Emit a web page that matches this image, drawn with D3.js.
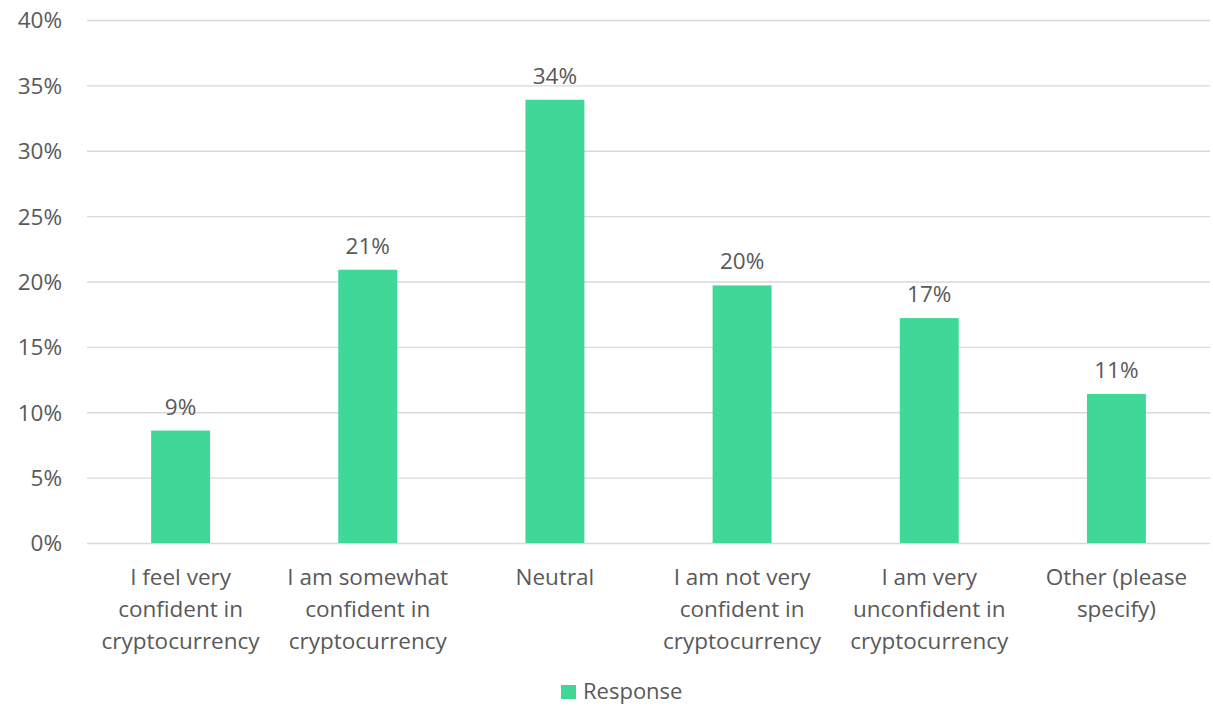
<!DOCTYPE html>
<html>
<head>
<meta charset="utf-8">
<script src="https://cdn.jsdelivr.net/npm/d3@7"></script>
<style>
  html, body { margin: 0; padding: 0; background: #fff; }
  svg { display: block; }
  text { font-family: "Open Sans", "Noto Sans", sans-serif; fill: #595959; }
</style>
</head>
<body>
<svg id="chart" width="1213" height="706"></svg>
<script>
// Survey answers: how confident respondents feel in cryptocurrency
const categories = [
  ["I feel very", "confident in", "cryptocurrency"],
  ["I am somewhat", "confident in", "cryptocurrency"],
  ["Neutral"],
  ["I am not very", "confident in", "cryptocurrency"],
  ["I am very", "unconfident in", "cryptocurrency"],
  ["Other (please", "specify)"]
];
const responseShare = [0.086, 0.209, 0.339, 0.197, 0.172, 0.114];
const yTicks = [0, 0.05, 0.10, 0.15, 0.20, 0.25, 0.30, 0.35, 0.40];
const seriesName = "Response";

const svg = d3.select("#chart");
const margin = { left: 87, right: 3, top: 20, bottom: 163 };
const W = 1213, H = 706;
const barColor = "#3FD898";
const fontSize = "22.5px";

const x = d3.scaleBand()
  .domain(d3.range(categories.length))
  .range([margin.left, W - margin.right])
  .padding(0);

const y = d3.scaleLinear()
  .domain([0, 0.40])
  .range([H - margin.bottom, margin.top]);

const fmt = d3.format(".0%");

// gridlines + y labels
const yAxis = d3.axisLeft(y)
  .tickValues(yTicks)
  .tickFormat(fmt)
  .tickSize(-(W - margin.left - margin.right))
  .tickPadding(25);

const gy = svg.append("g")
  .attr("transform", `translate(${margin.left},0)`)
  .call(yAxis);
gy.select(".domain").remove();
gy.selectAll(".tick line").attr("stroke", "#D9D9D9").attr("stroke-width", 1.3);
gy.selectAll(".tick text")
  .style("font-size", fontSize)
  .attr("fill", "#595959")
  .attr("dy", "0.35em");

// bars
const barW = x.bandwidth() * 0.315;
svg.append("g").selectAll("rect")
  .data(responseShare)
  .join("rect")
  .attr("x", (d, i) => x(i) + x.bandwidth() / 2 - barW / 2)
  .attr("width", barW)
  .attr("y", d => y(d))
  .attr("height", d => y(0) - y(d))
  .attr("fill", barColor);

// value labels
svg.append("g").selectAll("text")
  .data(responseShare)
  .join("text")
  .attr("x", (d, i) => x(i) + x.bandwidth() / 2)
  .attr("y", d => y(d) - 16)
  .attr("text-anchor", "middle")
  .style("font-size", fontSize)
  .text(d => fmt(d));

// category labels (wrapped)
const cat = svg.append("g").selectAll("text")
  .data(categories)
  .join("text")
  .attr("x", (d, i) => x(i) + x.bandwidth() / 2)
  .attr("y", 585)
  .attr("text-anchor", "middle")
  .style("font-size", fontSize);
cat.selectAll("tspan")
  .data(d => d)
  .join("tspan")
  .attr("x", function () { return d3.select(this.parentNode).attr("x"); })
  .attr("dy", (d, i) => i === 0 ? 0 : 32)
  .text(d => d);

// legend
const legend = svg.append("g");
legend.append("rect")
  .attr("x", 561).attr("y", 685)
  .attr("width", 15).attr("height", 14)
  .attr("fill", barColor);
legend.append("text")
  .attr("x", 583).attr("y", 699)
  .style("font-size", "22px")
  .text(seriesName);
</script>
</body>
</html>
